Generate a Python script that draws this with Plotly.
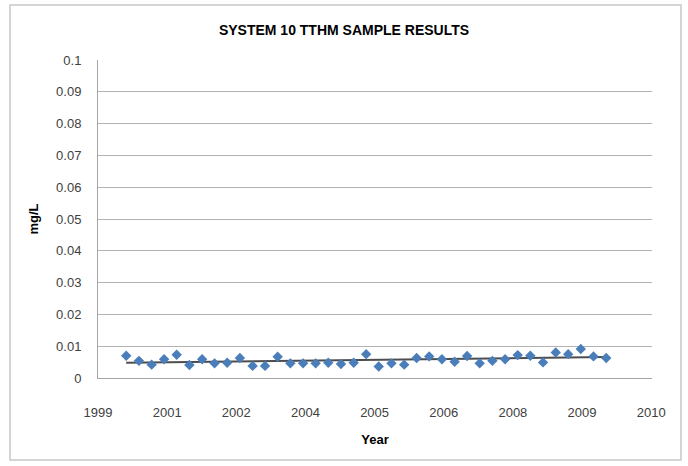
import numpy as np
import pandas as pd
import plotly.graph_objects as go

# Quarterly sample dates (39 samples, mid-2000 through early 2010)
sample_dates = pd.date_range("2000-07-01", periods=39, freq="QS").strftime("%Y-%m-%d").tolist()

# TTHM results, mg/L
tthm = [0.0070, 0.0054, 0.0042, 0.0059, 0.0073, 0.0041, 0.0059, 0.0046, 0.0048, 0.0063,
        0.0038, 0.0038, 0.0067, 0.0046, 0.0046, 0.0046, 0.0048, 0.0044, 0.0048, 0.0075,
        0.0036, 0.0046, 0.0042, 0.0063, 0.0068, 0.0059, 0.0051, 0.0069, 0.0046, 0.0054,
        0.0059, 0.0072, 0.0070, 0.0049, 0.0080, 0.0075, 0.0091, 0.0068, 0.0063]

# Linear trendline (as in the spreadsheet chart)
t = pd.to_datetime(sample_dates).map(pd.Timestamp.toordinal).to_numpy(dtype=float)
coef = np.polyfit(t, tthm, 1)
trend = np.polyval(coef, t)

fig = go.Figure()
fig.add_trace(go.Scatter(
    x=sample_dates, y=trend, mode="lines",
    line=dict(color="#4D4D4D", width=2), hoverinfo="skip", showlegend=False))
fig.add_trace(go.Scatter(
    x=sample_dates, y=tthm, mode="markers",
    marker=dict(symbol="diamond", size=8, color="#4A7EBB"), showlegend=False))

font_family = "Liberation Sans, Arial, sans-serif"
fig.update_layout(
    width=688, height=466,
    margin=dict(l=98, r=36, t=60, b=88),
    paper_bgcolor="white", plot_bgcolor="white",
    font=dict(family=font_family, color="#404040", size=13),
    title=dict(text="<b>SYSTEM 10 TTHM SAMPLE RESULTS</b>", x=0.5, xanchor="center",
               y=1 - 30 / 466, yanchor="middle", font=dict(size=14, color="#000000")),
    shapes=[dict(type="rect", xref="paper", yref="paper",
                 x0=-88 / 554, x1=583 / 554, y0=-82 / 318, y1=373 / 318,
                 line=dict(color="#C8C8C8", width=1.5), layer="below")],
)
fig.update_xaxes(
    type="date",
    range=["1999-12-10", "2010-11-28"],
    tick0="1999-12-10", dtick=500 * 86400000, tickformat="%Y",
    showgrid=False, showline=True, linecolor="#A6A6A6", linewidth=1,
    ticks="", ticklabelstandoff=22,
    title=dict(text="<b>Year</b>", font=dict(size=13, color="#000000"), standoff=16),
    zeroline=False,
)
fig.update_yaxes(
    range=[0, 0.1], dtick=0.01, tickformat="~g",
    showgrid=True, gridcolor="#B3B3B3", gridwidth=1,
    showline=True, linecolor="#A6A6A6", linewidth=1,
    ticks="", ticklabelstandoff=13,
    title=dict(text="<b>mg/L</b>", font=dict(size=13, color="#000000"), standoff=14),
    zeroline=False,
)
fig.write_html("out.html", config={"displayModeBar": False},
               post_script="document.body.style.margin='0';")
